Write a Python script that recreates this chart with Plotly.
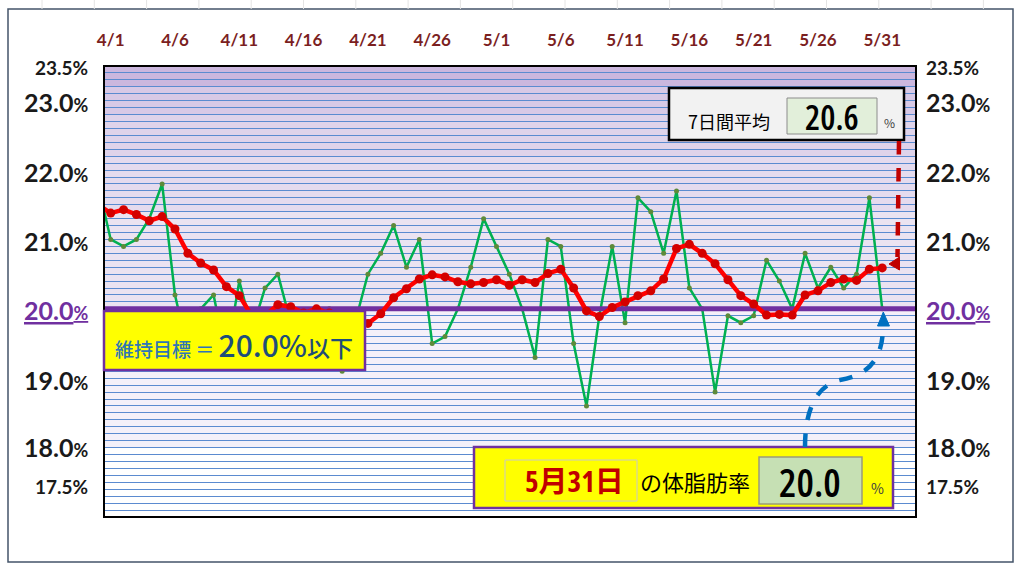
import plotly.graph_objects as go
import pandas as pd

# ---------------- data ----------------
dates = pd.date_range("2021-03-31", "2021-05-31", freq="D")
body_fat = [21.8, 21.0, 20.9, 21.0, 21.3, 21.8, 20.2, 19.4, 20.0, 20.2,
            19.3, 20.4, 19.7, 20.3, 20.5, 19.8, 19.6, 19.7, 20.0, 19.1,
            19.8, 20.5, 20.8, 21.2, 20.6, 21.0, 19.5, 19.6, 20.0, 20.6,
            21.3, 20.9, 20.5, 20.0, 19.3, 21.0, 20.9, 19.5, 18.6, 19.9,
            20.9, 19.8, 21.6, 21.4, 20.8, 21.7, 20.3, 20.0, 18.8, 19.9,
            19.8, 19.9, 20.7, 20.4, 20.0, 20.8, 20.3, 20.6, 20.3, 20.5,
            21.6, 20.0]
avg7 = [21.50, 21.38, 21.43, 21.36, 21.27, 21.33, 21.15, 20.80, 20.66, 20.56,
        20.32, 20.19, 19.89, 19.90, 20.06, 20.03, 19.94, 20.00, 19.94, 19.86,
        19.79, 19.79, 19.93, 20.16, 20.29, 20.43, 20.49, 20.46, 20.39, 20.36,
        20.38, 20.42, 20.34, 20.42, 20.38, 20.51, 20.57, 20.30, 19.97, 19.89,
        20.02, 20.10, 20.19, 20.26, 20.43, 20.87, 20.93, 20.80, 20.65, 20.42,
        20.19, 20.07, 19.91, 19.92, 19.91, 20.20, 20.26, 20.38, 20.43, 20.41,
        20.57, 20.59]
target = 20.0
tick_dates = pd.date_range("2021-04-01", "2021-05-31", freq="5D")
y_label_vals = [23.5, 23.0, 22.0, 21.0, 20.0, 19.0, 18.0, 17.5]
y_label_shift = [-1, -1, -2, -2, -1, -2, 1, -4]
latest_date_text = "5月31日"
latest_value_text = "20.0"
latest_avg_text = "20.6"

X_RANGE = ["2021-03-31 11:30", "2021-06-02 15:00"]
Y_RANGE = [17.0, 23.5]

W, H = 1024, 571
L, R, T, B = 104, 916, 66, 517


def px(x):
    return (x - L) / (R - L)


def py(y):
    return (B - y) / (B - T)


fig = go.Figure()

fig.add_trace(go.Scatter(
    x=dates, y=body_fat, mode="lines+markers",
    line=dict(color="#00b050", width=2.5),
    marker=dict(color="#5e8a3a", size=5),
    showlegend=False, hoverinfo="skip"))

fig.add_trace(go.Scatter(
    x=X_RANGE, y=[target, target], mode="lines",
    line=dict(color="#7030a0", width=5),
    showlegend=False, hoverinfo="skip"))

fig.add_trace(go.Scatter(
    x=dates, y=avg7, mode="lines+markers",
    line=dict(color="#ff0000", width=4.5),
    marker=dict(color="#d40000", size=9),
    showlegend=False, hoverinfo="skip"))

shapes = []
bands = [(23.2, 23.5, "#cbb7de"), (22.8, 23.2, "#d8c9e6"), (22.2, 22.8, "#dfd3ea"),
         (21.4, 22.2, "#e5dbee"), (20.0, 21.4, "#ebe3f1"), (18.0, 20.0, "#f4f0f9"),
         (17.0, 18.0, "#ffffff")]
for y0, y1, c in bands:
    shapes.append(dict(type="rect", xref="paper", yref="y", x0=0, x1=1, y0=y0, y1=y1,
                       fillcolor=c, line=dict(width=0), layer="below"))

shapes.append(dict(type="rect", xref="paper", yref="paper", x0=0, x1=1, y0=0, y1=1,
                   line=dict(color="black", width=2), layer="above"))
shapes.append(dict(type="rect", xref="paper", yref="paper", x0=px(8), x1=px(1013),
                   y0=py(562), y1=py(9), line=dict(color="#44546a", width=1.5)))
for i in range(19):
    xx = 42 + 52.3 * i
    shapes.append(dict(type="line", xref="paper", yref="paper", x0=px(xx), x1=px(xx),
                       y0=py(0), y1=py(9), line=dict(color="#e4e4e4", width=1)))


def rect(x0, y0, x1, y1, fill, lc, lw):
    shapes.append(dict(type="rect", xref="paper", yref="paper",
                       x0=px(x0), x1=px(x1), y0=py(y1), y1=py(y0),
                       fillcolor=fill, line=dict(color=lc, width=lw), layer="above"))


rect(669, 88, 904, 140, "#f2f2f2", "black", 2.5)
rect(787, 98, 877, 134, "#e2efda", "#8c8c8c", 1)
rect(104, 311, 365, 370, "#ffff00", "#7030a0", 2.5)
rect(474, 447, 893, 508, "#ffff00", "#7030a0", 2.5)
rect(505, 460, 637, 501, "#ffff00", "#c8c8c8", 1)
rect(759, 457, 862, 504, "#c6e0b4", "#9a9a7a", 1.5)


def P(x, y):
    return f"{px(x):.5f},{py(y):.5f}"


shapes.append(dict(type="path", xref="paper", yref="paper",
                   path=f"M {P(899, 141)} L {P(897.5, 257)}",
                   line=dict(color="#c00000", width=4.5, dash="dash"), layer="above"))
shapes.append(dict(type="path", xref="paper", yref="paper",
                   path=f"M {P(889, 264)} L {P(899.5, 257)} L {P(899.5, 270)} Z",
                   fillcolor="#c00000", line=dict(color="#c00000", width=1), layer="above"))
shapes.append(dict(type="path", xref="paper", yref="paper",
                   path=(f"M {P(805, 447)} C {P(805, 412)} {P(815, 386)} {P(840, 380)} "
                         f"C {P(868, 375)} {P(883, 360)} {P(883, 326)}"),
                   line=dict(color="#0070c0", width=4.5, dash="dash"), layer="above"))
shapes.append(dict(type="path", xref="paper", yref="paper",
                   path=f"M {P(883.3, 312)} L {P(889.5, 326)} L {P(877.5, 326)} Z",
                   fillcolor="#0070c0", line=dict(color="#0070c0", width=1), layer="above"))

annotations = []
LABEL_FONT = "Lato, Carlito, Calibri, sans-serif"
for v, sh in zip(y_label_vals, y_label_shift):
    big = v not in (23.5, 17.5)
    color = "#7030a0" if v == target else "#1a1a1a"
    if big:
        txt = f"{v:.1f}<span style='font-size:18px'>%</span>"
        size = 25
    else:
        txt = f"{v:.1f}%"
        size = 19
    if v == target:
        txt = f"<u>{txt}</u>"
    for xx, anchor in ((90, "right"), (924, "left")):
        annotations.append(dict(xref="paper", yref="y", x=px(xx), y=v, yshift=sh,
                                text=txt, showarrow=False, xanchor=anchor, yanchor="middle",
                                font=dict(family=LABEL_FONT, size=size, color=color, weight="bold")))

CJK = "Noto Sans CJK JP"
COND = "Open Sans, Noto Sans CJK JP, sans-serif"


def cond(t):
    return f"<span style='font-stretch:condensed'>{t}</span>"


def ann(x, y, text, size, color="black", family=CJK, weight="normal"):
    annotations.append(dict(xref="paper", yref="paper", x=px(x), y=py(y), text=text,
                            showarrow=False, xanchor="center", yanchor="middle",
                            font=dict(family=family, size=size, color=color, weight=weight)))


ann(729, 121, "7日間平均", 18)
ann(832, 117, cond(latest_avg_text), 34, family=COND, weight=600)
ann(889, 123, "%", 12, color="#404040")
ann(234, 344,
    "<span style='color:#2e75b6;font-size:19px'>維持目標 ＝ </span>"
    "<span style='font-size:30px'>20.0%</span><span style='font-size:23px'>以下</span>",
    30, color="#1f4e79", weight=500)
ann(574, 480, cond(latest_date_text), 29, color="#c00000", family=COND, weight="bold")
ann(695, 481, "の体脂肪率", 22)
ann(810, 481, cond(latest_value_text), 39, family=COND, weight=600)
ann(877, 488, "%", 14, color="#404040")

fig.update_layout(
    width=W, height=H,
    margin=dict(l=L, r=W - R, t=T, b=H - B),
    paper_bgcolor="white", plot_bgcolor="white",
    shapes=shapes, annotations=annotations,
    xaxis=dict(range=X_RANGE, side="top", tickvals=tick_dates, tickformat="%-m/%-d",
               tickfont=dict(family=LABEL_FONT, size=17, color="#7b1f1f", weight="bold"),
               ticks="", showgrid=False, zeroline=False, showline=False,
               ticklabelstandoff=16),
    yaxis=dict(range=Y_RANGE, tick0=17.0, dtick=0.1, showticklabels=False,
               showgrid=True, gridcolor="#5b8bd0", gridwidth=1, zeroline=False,
               showline=False, ticks=""),
)

fig.write_html("out.html", include_plotlyjs=True, config={"displayModeBar": False},
               post_script="document.body.style.margin='0px';document.body.style.overflow='hidden';")
